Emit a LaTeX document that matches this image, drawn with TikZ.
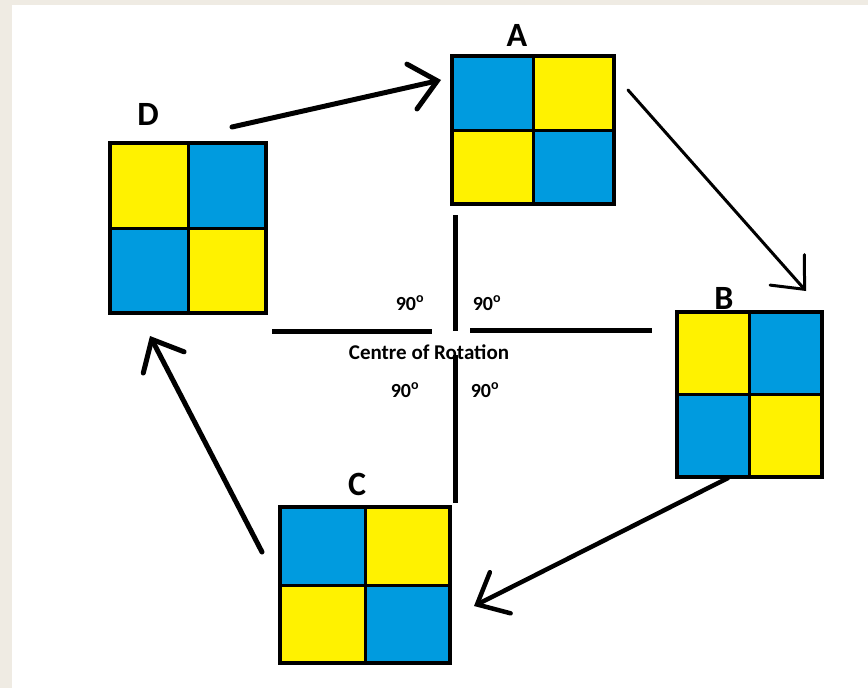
\documentclass[tikz,border=0pt]{standalone}
\usepackage{fontspec}
\setmainfont{Carlito}
\usepackage{tikz}
\usetikzlibrary{arrows.meta,calc}
\definecolor{tileblue}{HTML}{009BDF}
\definecolor{tileyel}{HTML}{FFF200}
\definecolor{paper}{HTML}{EFEBE3}
\tikzset{
  tile/.style={inner sep=0pt, outer sep=0pt},
  frame/.style={draw=black, line width=4.5pt},
  grid/.style={draw=black, line width=3pt},
  axis/.style={draw=black, line width=5pt},
  turn/.style={draw=black, line cap=round, line join=round,
    -{Straight Barb[length=26pt, width=46pt, line cap=round]}},
  lbl/.style={font=\bfseries\fontsize{34}{34}\selectfont, inner sep=0pt},
  deg/.style={font=\bfseries\fontsize{20}{20}\selectfont, inner sep=0pt},
}
% name, x, y, width, height, top-left colour, other colour
\newcommand{\tilesq}[7]{%
  \node[tile, fill=#7, minimum width=#4pt, minimum height=#5pt] (#1) at (#2,#3) {};
  \fill[#6] (#1.north west) rectangle (#1.center);
  \fill[#6] (#1.center) rectangle (#1.south east);
  \draw[grid] (#1.north) -- (#1.south);
  \draw[grid] (#1.west) -- (#1.east);
  \draw[frame] (#1.north west) rectangle (#1.south east);
}
\begin{document}
\begin{tikzpicture}[x=1pt, y=-1pt]
\useasboundingbox (0,0) rectangle (868,688);
\fill[paper] (0,0) rectangle (868,688);
\fill[white] (12,5) rectangle (868,688);
% the four positions
\tilesq{A}{533}{130}{162}{148}{tileblue}{tileyel}
\tilesq{D}{188}{228}{156}{170}{tileyel}{tileblue}
\tilesq{B}{749.5}{394.5}{145}{165}{tileyel}{tileblue}
\tilesq{C}{365}{585}{170}{156}{tileblue}{tileyel}
\node[lbl] (lA) at (517,35) {A};
\node[lbl] (lD) at (148,114) {D};
\node[lbl] (lB) at (724,298) {B};
\node[lbl] (lC) at (357,484) {C};
% centre of rotation
\coordinate (up1) at (455,215);  \coordinate (up2) at (455,331);
\coordinate (dn1) at (455,355);  \coordinate (dn2) at (455,503);
\coordinate (lf1) at (272,331);  \coordinate (lf2) at (432,331);
\coordinate (rt1) at (470,330);  \coordinate (rt2) at (652,330);
\draw[axis] (up1) -- (up2);
\draw[axis] (dn1) -- (dn2);
\draw[axis] (lf1) -- (lf2);
\draw[axis] (rt1) -- (rt2);
\node[font=\bfseries\fontsize{21}{21}\selectfont, inner sep=0pt] (cr) at (429,352) {Centre of Rotation};
\node[deg] (d1) at (410,303) {90\textsuperscript{o}};
\node[deg] (d2) at (487,303) {90\textsuperscript{o}};
\node[deg] (d3) at (405,390) {90\textsuperscript{o}};
\node[deg] (d4) at (485,390) {90\textsuperscript{o}};
% turns
\coordinate (da1) at (232,127); \coordinate (da2) at (441,80);
\coordinate (ab1) at (628,90);  \coordinate (ab2) at (806,291);
\coordinate (bc1) at (728,478); \coordinate (bc2) at (474,606);
\coordinate (cd1) at (262,552); \coordinate (cd2) at (150,336);
\draw[turn, line width=5pt] (da1) -- (da2);
\draw[turn, line width=3pt] (ab1) -- (ab2);
\draw[turn, line width=4.5pt] (bc1) -- (bc2);
\draw[turn, line width=5pt] (cd1) -- (cd2);
\end{tikzpicture}
\end{document}
